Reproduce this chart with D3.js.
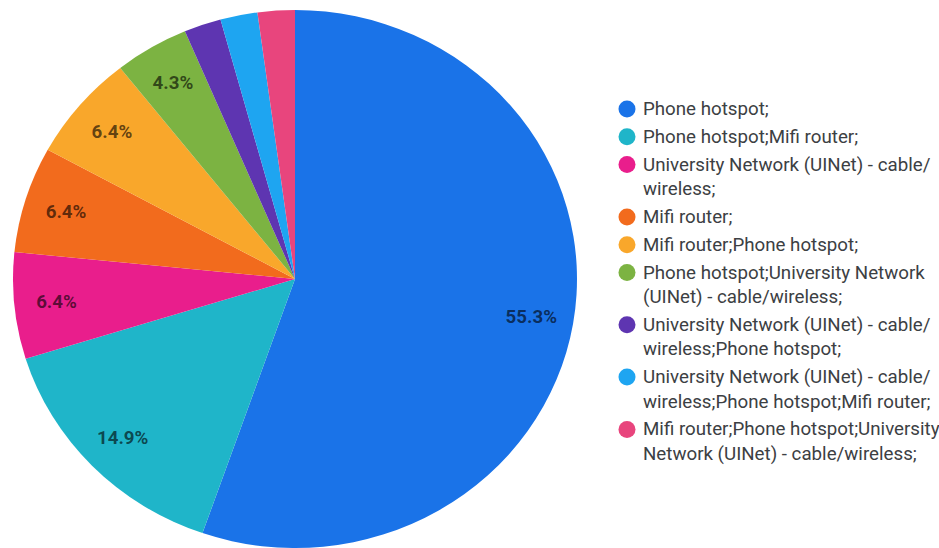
<!DOCTYPE html>
<html><head><meta charset="utf-8">
<script src="https://cdn.jsdelivr.net/npm/d3@7"></script>
<style>html,body{margin:0;padding:0;background:#fff;}svg{display:block;font-family:Roboto,"Noto Sans",sans-serif;}</style>
</head><body><svg id="c" width="939" height="548"></svg>
<script>
const categories = [
  ["Phone hotspot;"],
  ["Phone hotspot;Mifi router;"],
  ["University Network (UINet) - cable/", "wireless;"],
  ["Mifi router;"],
  ["Mifi router;Phone hotspot;"],
  ["Phone hotspot;University Network", "(UINet) - cable/wireless;"],
  ["University Network (UINet) - cable/", "wireless;Phone hotspot;"],
  ["University Network (UINet) - cable/", "wireless;Phone hotspot;Mifi router;"],
  ["Mifi router;Phone hotspot;University", "Network (UINet) - cable/wireless;"]
];
const counts = [26, 7, 3, 3, 3, 2, 1, 1, 1];
const percentLabels = ["55.3%", "14.9%", "6.4%", "6.4%", "6.4%", "4.3%", "", "", ""];
const colors = ["#1a73e8", "#1fb5c9", "#e91e8c", "#f26b1d", "#f9a72b", "#7cb342", "#5e35b1", "#1ea5f1", "#e8457d"];

const svg = d3.select("#c");
const cx = 295, cy = 279, rx = 282, ry = 269;
const sy = ry / rx;
const textSX = 1.04;

const pie = d3.pie().sort(null).value(d => d)(counts);
const arc = d3.arc().innerRadius(0).outerRadius(rx);
const labelArc = d3.arc().innerRadius(rx * 0.85).outerRadius(rx * 0.85);

const g = svg.append("g").attr("transform", `translate(${cx},${cy}) scale(1,${sy})`);
g.selectAll("path").data(pie).join("path")
  .attr("d", arc)
  .attr("fill", (d, i) => colors[i]);

const lg = svg.append("g").attr("transform", `translate(${cx},${cy})`);
lg.selectAll("text").data(pie).join("text")
  .attr("transform", d => `translate(${labelArc.centroid(d)[0]},${labelArc.centroid(d)[1] * sy}) scale(${textSX},1)`)
  .attr("dy", "0.35em")
  .attr("text-anchor", "middle")
  .attr("font-size", 18)
  .attr("font-weight", 700)
  .attr("fill", "#000")
  .attr("fill-opacity", 0.62)
  .text((d, i) => percentLabels[i]);

// legend
const leg = svg.append("g");
let y = 109;
categories.forEach((lines, i) => {
  leg.append("circle").attr("cx", 627).attr("cy", y).attr("r", 8.5).attr("fill", colors[i]);
  const t = leg.append("text")
    .attr("transform", `translate(643,${y + 6}) scale(${textSX},1)`)
    .attr("font-size", 18).attr("fill", "#3c4043");
  lines.forEach((ln, j) => {
    t.append("tspan").attr("x", 0).attr("y", j * 24.5).text(ln);
  });
  y += 27.8 + 24.5 * (lines.length - 1);
});
</script></body></html>
